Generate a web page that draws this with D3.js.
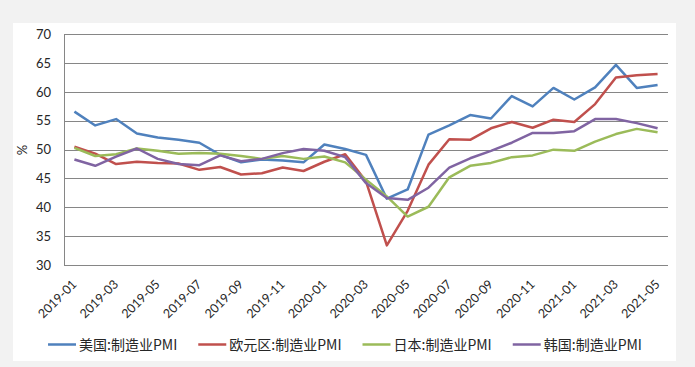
<!DOCTYPE html>
<html>
<head>
<meta charset="utf-8">
<script src="https://cdn.jsdelivr.net/npm/d3@7"></script>
<style>
  html, body { margin: 0; padding: 0; background: #f2f2f2; }
  svg { display: block; }
</style>
</head>
<body>
<svg id="chart" width="695" height="367"></svg>
<script>
const months = ["2019-01","2019-02","2019-03","2019-04","2019-05","2019-06","2019-07","2019-08","2019-09","2019-10","2019-11","2019-12",
  "2020-01","2020-02","2020-03","2020-04","2020-05","2020-06","2020-07","2020-08","2020-09","2020-10","2020-11","2020-12",
  "2021-01","2021-02","2021-03","2021-04","2021-05"];
const usPMI = [56.6,54.2,55.3,52.8,52.1,51.7,51.2,49.1,47.8,48.3,48.1,47.8,50.9,50.1,49.1,41.5,43.1,52.6,54.2,56.0,55.4,59.3,57.5,60.7,58.7,60.8,64.7,60.7,61.2];
const euroPMI = [50.5,49.3,47.5,47.9,47.7,47.6,46.5,47.0,45.7,45.9,46.9,46.3,47.9,49.2,44.5,33.4,39.4,47.4,51.8,51.7,53.7,54.8,53.8,55.2,54.8,57.9,62.5,62.9,63.1];
const japanPMI = [50.3,48.9,49.2,50.2,49.8,49.3,49.4,49.3,48.9,48.4,48.9,48.4,48.8,47.8,44.8,41.9,38.4,40.1,45.2,47.2,47.7,48.7,49.0,50.0,49.8,51.4,52.7,53.6,53.0];
const koreaPMI = [48.3,47.2,48.8,50.2,48.4,47.5,47.3,49.0,48.0,48.4,49.4,50.1,49.8,48.7,44.2,41.6,41.3,43.4,46.9,48.5,49.8,51.2,52.9,52.9,53.2,55.3,55.3,54.6,53.7];
const seriesNames = ["美国:制造业PMI","欧元区:制造业PMI","日本:制造业PMI","韩国:制造业PMI"];
const seriesColors = ["#4F81BD","#C0504D","#9BBB59","#8064A2"];
const yTicks = [30,35,40,45,50,55,60,65,70];
const xTickLabels = months.filter((m, i) => i % 2 === 0);
const yTitle = "%";

const svg = d3.select("#chart");
const numFont = "Lato, 'DejaVu Sans', sans-serif";
const cjkFont = "'Noto Sans CJK SC', sans-serif";

// white chart area
svg.append("rect").attr("x", 13).attr("y", 23).attr("width", 663).attr("height", 338).attr("fill", "#ffffff");

const x = d3.scaleBand().domain(months).range([64, 668]).padding(0);
const y = d3.scaleLinear().domain([30, 70]).range([265, 34.3]);

// gridlines
svg.append("g").selectAll("line").data(yTicks).join("line")
  .attr("x1", 64).attr("x2", 668)
  .attr("y1", d => Math.round(y(d)) + 0.5).attr("y2", d => Math.round(y(d)) + 0.5)
  .attr("stroke", "#868686").attr("stroke-width", 1);

// left axis line
svg.append("line").attr("x1", 64.5).attr("x2", 64.5).attr("y1", Math.round(y(70)) + 0.5).attr("y2", Math.round(y(30)) + 0.5)
  .attr("stroke", "#868686").attr("stroke-width", 1);

// y axis labels
const yAxis = d3.axisLeft(y).tickValues(yTicks).tickSize(0).tickPadding(13);
const gy = svg.append("g").attr("transform", "translate(64,0)").call(yAxis);
gy.select(".domain").remove();
gy.selectAll("text").attr("font-family", numFont).attr("font-size", 13).attr("fill", "#262626");

// y title
svg.append("text").attr("transform", "translate(27,150) rotate(-90)")
  .attr("text-anchor", "middle").attr("font-family", numFont).attr("font-size", 13).attr("fill", "#262626").text(yTitle);

// x labels
const xAxis = d3.axisBottom(x).tickValues(xTickLabels).tickSize(0).tickPadding(0);
const gx = svg.append("g").attr("transform", "translate(0,265)").call(xAxis);
gx.select(".domain").remove();
gx.selectAll("text")
  .attr("font-family", numFont).attr("font-size", 12.5).attr("fill", "#262626")
  .attr("text-anchor", "end").attr("dy", 0).attr("y", 0)
  .attr("transform", "translate(3,20) rotate(-45)");

// lines
const allSeries = [usPMI, euroPMI, japanPMI, koreaPMI];
const line = d3.line().x((d, i) => x(months[i]) + x.bandwidth() / 2).y(d => y(d));
svg.append("g").selectAll("path").data(allSeries).join("path")
  .attr("d", d => line(d))
  .attr("fill", "none")
  .attr("stroke", (d, i) => seriesColors[i])
  .attr("stroke-width", 2.5)
  .attr("stroke-linejoin", "round");

// legend
const lg = svg.append("g");
const items = lg.selectAll("g").data(seriesNames).join("g");
items.append("line").attr("x1", 0).attr("x2", 28).attr("y1", 0).attr("y2", 0)
  .attr("stroke", (d, i) => seriesColors[i]).attr("stroke-width", 2.5);
items.append("text").attr("x", 31).attr("y", 5)
  .attr("font-family", cjkFont).attr("font-size", 14).attr("fill", "#262626").text(d => d);
let widths = [];
items.each(function () { widths.push(31 + d3.select(this).select("text").node().getComputedTextLength()); });
const gap = 21;
const total = d3.sum(widths) + gap * (widths.length - 1);
let cx = 345 - total / 2;
items.each(function (d, i) {
  d3.select(this).attr("transform", `translate(${cx},344.5)`);
  cx += widths[i] + gap;
});
</script>
</body>
</html>
